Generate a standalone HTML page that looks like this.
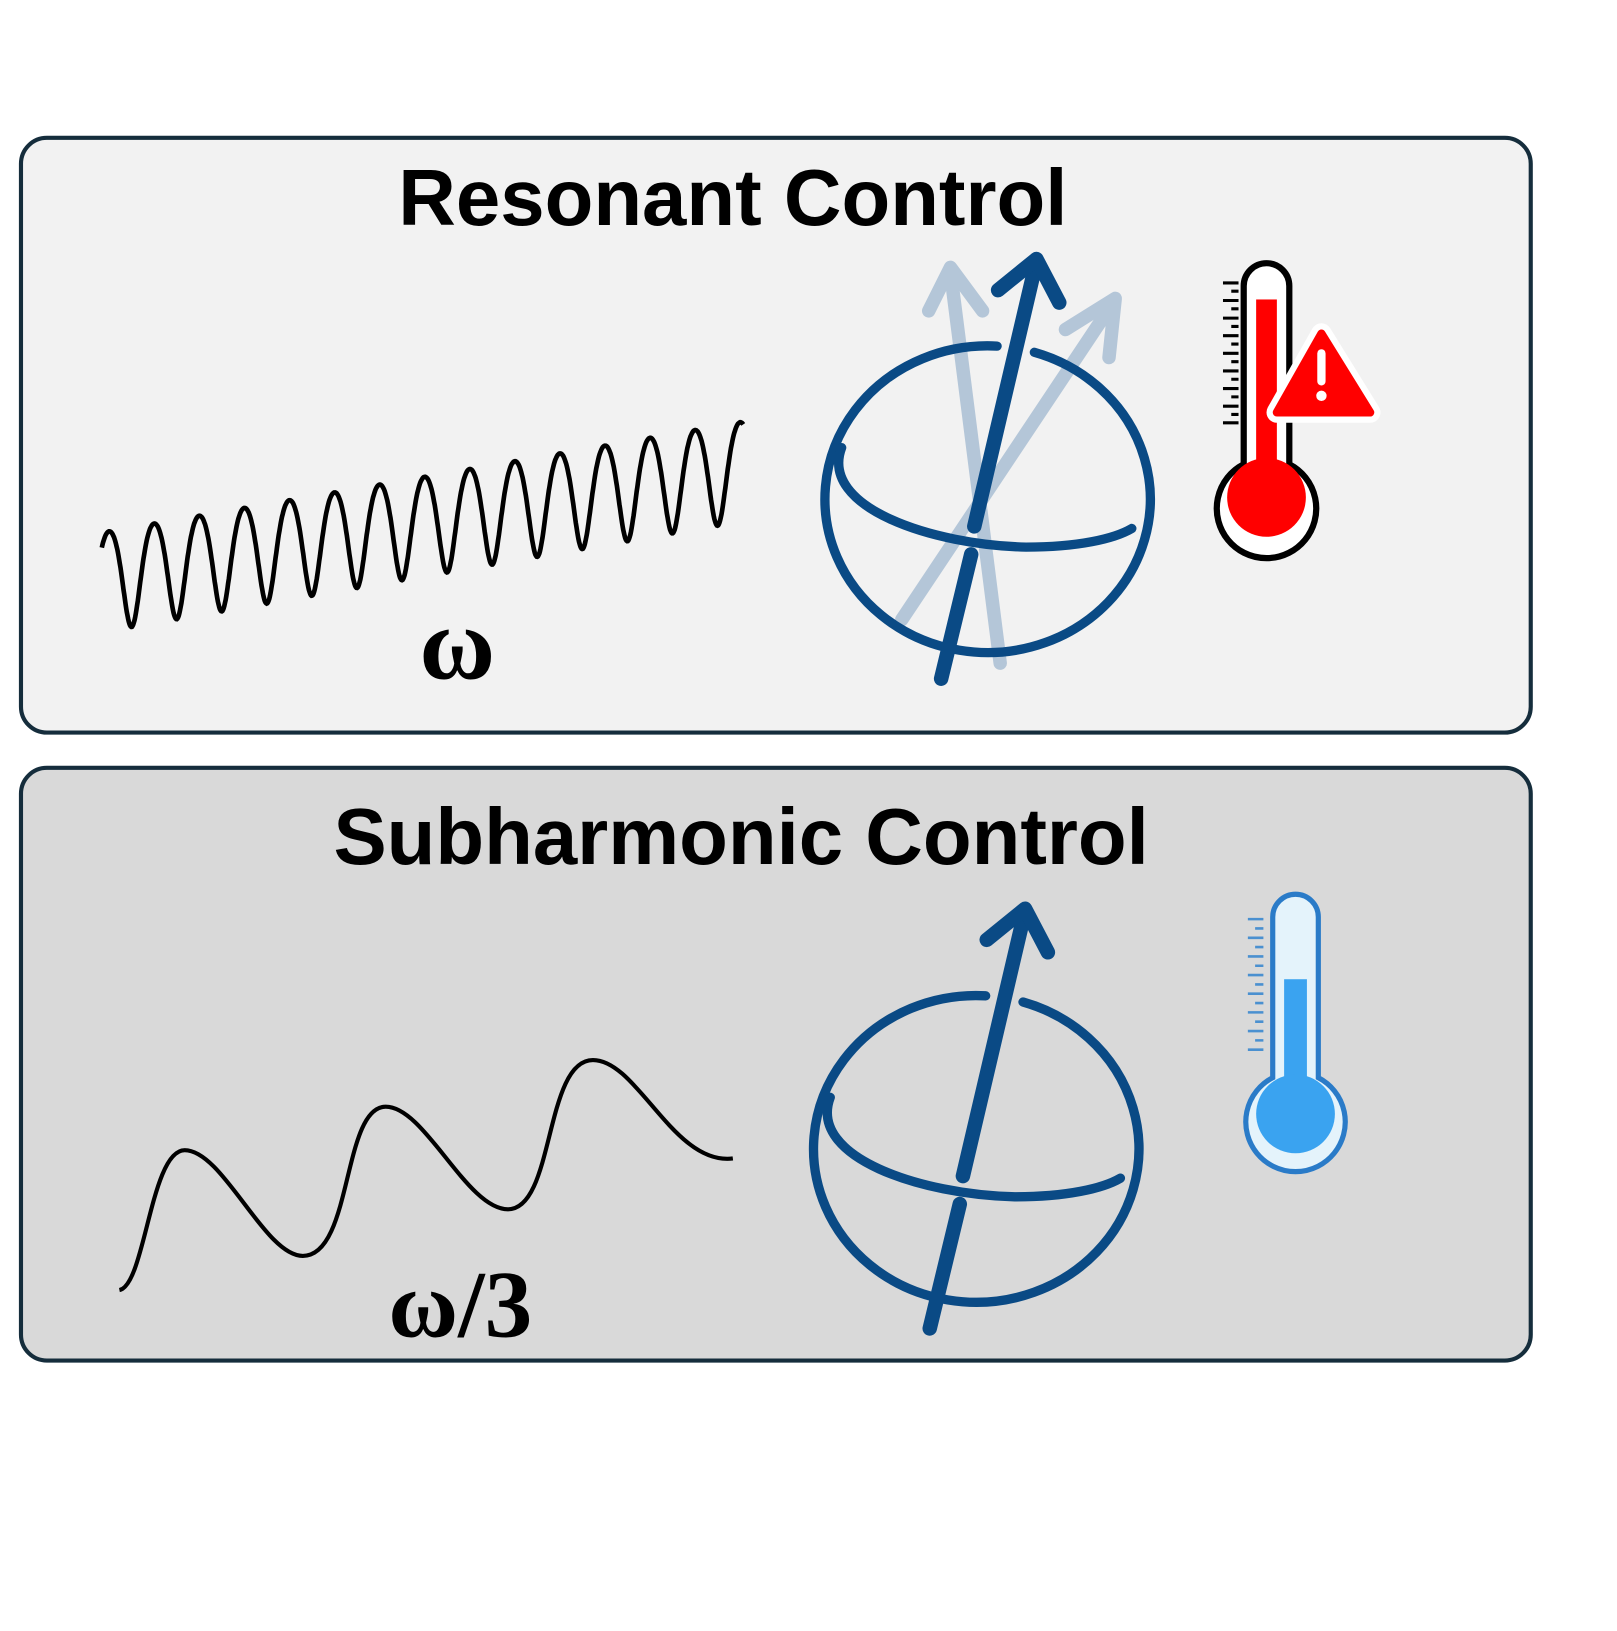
<!DOCTYPE html>
<html><head><style>html,body{margin:0;padding:0;background:#fff}svg{display:block}</style></head>
<body>
<svg width="1617" height="1631" viewBox="0 0 1560 1574" xmlns="http://www.w3.org/2000/svg">
<rect x="20" y="133" width="1457" height="574" rx="25" fill="#f2f2f2" stroke="#152d3c" stroke-width="4"/>
<rect x="20" y="741" width="1457" height="572" rx="25" fill="#d9d9d9" stroke="#152d3c" stroke-width="4"/>
<text x="707" y="217" text-anchor="middle" font-family="Liberation Sans, sans-serif" font-weight="bold" font-size="77">Resonant Control</text>
<text x="715" y="834" text-anchor="middle" font-family="Liberation Sans, sans-serif" font-weight="bold" font-size="77">Subharmonic Control</text>
<path id="w1" fill="none" stroke="#000" stroke-width="4.5" d=""/>
<text x="441" y="655" text-anchor="middle" font-family="Liberation Serif, serif" font-weight="bold" font-size="100">ω</text>
<path fill="none" stroke="#000" stroke-width="4" d="M115 1245 C140 1240,145 1110,178 1110 C215 1110,255 1212,292 1212 C340 1212,330 1068,372 1068 C410 1068,450 1167,490 1167 C535 1167,525 1023,572 1023 C615 1023,650 1125,707 1118"/>
<text x="444" y="1290" text-anchor="middle" font-family="Liberation Serif, serif" font-weight="bold" font-size="92">ω/3</text>
<g fill="none" stroke-linecap="round">
<g stroke="#b4c6d8" stroke-width="13">
<line x1="965" y1="640" x2="917" y2="262"/>
<polyline points="896,300 917,258 948,300" stroke-linejoin="round"/>
<line x1="870" y1="598" x2="1074" y2="292"/>
<polyline points="1028,318 1076,288 1070,345" stroke-linejoin="round"/>
</g>
<path d="M962 334 A157 148 0 1 0 998 340" stroke="#0a4a85" stroke-width="9"/>
<path d="M812 432 C790 490,900 526,990 528 C1040 528,1075 520,1092 510" stroke="#0a4a85" stroke-width="9"/>
<g stroke="#0a4a85" stroke-width="14">
<line x1="908" y1="655" x2="937" y2="535"/>
<line x1="940" y1="508" x2="1000" y2="252"/>
<polyline points="963,280 1000,250 1022,292" stroke-linejoin="round"/>
</g>
</g>
<g fill="none" stroke-linecap="round" transform="translate(-11,627)">
<path d="M962 334 A157 148 0 1 0 998 340" stroke="#0a4a85" stroke-width="9"/>
<path d="M812 432 C790 490,900 526,990 528 C1040 528,1075 520,1092 510" stroke="#0a4a85" stroke-width="9"/>
<g stroke="#0a4a85" stroke-width="14">
<line x1="908" y1="655" x2="937" y2="535"/>
<line x1="940" y1="508" x2="1000" y2="252"/>
<polyline points="963,280 1000,250 1022,292" stroke-linejoin="round"/>
</g>
</g>
<!-- thermometer 1 -->
<path d="M1200 276 A22 22 0 0 1 1244 276 L1244 448 A48 48 0 1 1 1200 448 Z" fill="#fff" stroke="#000" stroke-width="6"/>
<rect x="1212" y="289" width="20" height="170" fill="#f00"/>
<circle cx="1222" cy="480" r="38" fill="#f00"/>
<g stroke="#000" stroke-width="3">
<path d="M1180 273h15M1188 281h7M1180 290h15M1188 298h7M1180 307h15M1188 315h7M1180 324h15M1188 332h7M1180 341h15M1188 349h7M1180 358h15M1188 366h7M1180 375h15M1188 383h7M1180 392h15M1188 400h7M1180 408h15"/>
</g>
<path d="M1275 322 L1322 398 L1232 398 Z" fill="#fff" stroke="#fff" stroke-width="20" stroke-linejoin="round"/>
<path d="M1275 322 L1322 398 L1232 398 Z" fill="#f00" stroke="#f00" stroke-width="8" stroke-linejoin="round"/>
<rect x="1271" y="337" width="8" height="35" rx="4" fill="#fff"/>
<circle cx="1275" cy="382" r="5" fill="#fff"/>
<!-- thermometer 2 -->
<path d="M1228 885 A22 22 0 0 1 1272 885 L1272 1040 A48 48 0 1 1 1228 1040 Z" fill="#e4f3fb" stroke="#2a7bc8" stroke-width="5"/>
<rect x="1239" y="945" width="22" height="110" fill="#3aa3f0"/>
<circle cx="1250" cy="1075" r="38" fill="#3aa3f0"/>
<g stroke="#4a90d0" stroke-width="2.5">
<path d="M1204 887h15M1211 896h8M1204 905h15M1211 914h8M1204 923h15M1211 932h8M1204 941h15M1211 950h8M1204 959h15M1211 968h8M1204 977h15M1211 986h8M1204 995h15M1211 1004h8M1204 1013h15"/>
</g>
<script>
(function(){var d="";var x0=98,x1=717,N=1000;for(var i=0;i<=N;i++){var x=x0+(x1-x0)*i/N;var c=562-(x-x0)*(107/619);var ph=2*Math.PI*(x-105)/43.5;var y=c-48*Math.cos(ph-0.25*Math.sin(ph));d+=(i?"L":"M")+x.toFixed(1)+" "+y.toFixed(1);}document.getElementById("w1").setAttribute("d",d);})();
</script>
</svg>
</body></html>
